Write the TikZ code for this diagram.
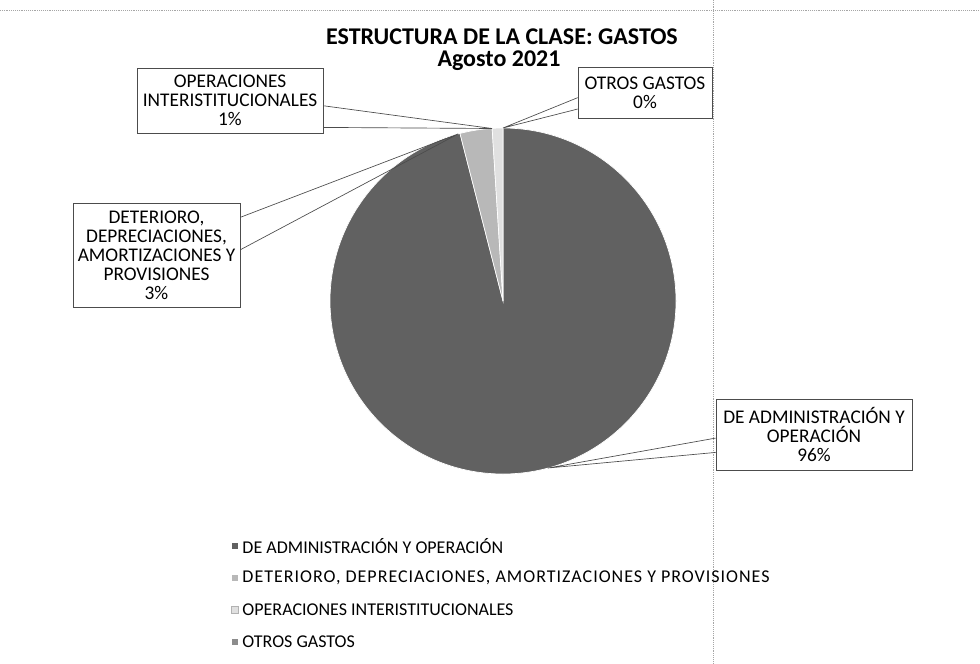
\documentclass[tikz,border=0pt]{standalone}
\usepackage{fontspec}
\setmainfont{Carlito}
\usepackage{tikz}
\usetikzlibrary{calc,positioning}

\tikzset{
    etiqueta/.style={draw=black!70, line width=0.5pt, fill=white, align=center, font=\fontsize{14.5}{14.3}\selectfont, inner sep=0pt},
    guia/.style={draw=black!70, line width=0.5pt},
    rejilla/.style={draw=black!35, line width=0.4pt, densely dotted},
    leyenda/.style={anchor=west, font=\fontsize{13.5}{15}\selectfont, inner sep=0pt},
    marca/.style={minimum size=5.5pt, inner sep=0pt, draw=white, line width=0.3pt}
}
\colorlet{cAdmin}{black!62}
\colorlet{cDeter}{black!28}
\colorlet{cOpint}{black!12}
\colorlet{cOtros}{black!45}

\begin{document}
\begin{tikzpicture}[x=0.75pt,y=0.75pt,yscale=-1,xscale=1]
    \useasboundingbox (0,0) rectangle (980,663);
    \fill[white] (0,0) rectangle (980,663);

    %Straight Lines: sheet grid
    \draw[rejilla] (0,10) -- (980,10);
    \draw[rejilla] (713,0) -- (713,663);

    % Title
    \node (titulo) at (502,37) {\fontsize{18}{20}\selectfont\bfseries ESTRUCTURA DE LA CLASE: GASTOS};
    \node (fecha) at (499,61) {\fontsize{18}{20}\selectfont\bfseries Agosto 2021};

    %Shape: Pie (center 503,301, radius 173)
    \coordinate (centro) at (503,301);
    \fill[cAdmin, draw=white, line width=0.5pt] (centro) -- ++(270:173) arc (270:615.6:173) -- cycle;
    \fill[cDeter, draw=white, line width=0.5pt] (centro) -- ++(615.6:173) arc (615.6:626.4:173) -- cycle;
    \fill[cOpint, draw=white, line width=0.5pt] (centro) -- ++(626.4:173) arc (626.4:630:173) -- cycle;

    % Leader tips on the pie edge
    \coordinate (pAdmin) at (548,468);
    \coordinate (pDeter) at (458,134);
    \coordinate (pOpint) at (492,128.5);
    \coordinate (pOtros) at (503,128);

    % Text Node
    \node[etiqueta, minimum width=139.5pt, minimum height=48.75pt] (opint) at (230,100.5) {OPERACIONES\\INTERISTITUCIONALES\\1\%};
    % Text Node
    \node[etiqueta, minimum width=100.5pt, minimum height=38.25pt] (otros) at (645,92.5) {OTROS GASTOS\\0\%};
    % Text Node
    \node[etiqueta, minimum width=125.25pt, minimum height=78pt] (deter) at (156.5,255) {DETERIORO,\\DEPRECIACIONES,\\AMORTIZACIONES Y\\PROVISIONES\\3\%};
    % Text Node
    \node[etiqueta, minimum width=147pt, minimum height=53.25pt] (admin) at (814,434.5) {DE ADMINISTRACIÓN Y\\OPERACIÓN\\96\%};

    %Straight Lines: callout leaders
    \draw[guia] ($(opint.north east)!0.58!(opint.south east)$) -- (pOpint) -- ($(opint.north east)!0.91!(opint.south east)$);
    \draw[guia] ($(otros.north west)!0.6!(otros.south west)$) -- (pOtros) -- ($(otros.north west)!0.82!(otros.south west)$);
    \draw[guia] ($(deter.north east)!0.14!(deter.south east)$) -- (pDeter) -- ($(deter.north east)!0.45!(deter.south east)$);
    \draw[guia] ($(admin.north west)!0.55!(admin.south west)$) -- (pAdmin) -- ($(admin.north west)!0.75!(admin.south west)$);

    % Legend
    \node[marca, fill=cAdmin] (mAdmin) at (235,546) {};
    \node[leyenda, right=2.5pt of mAdmin] (lAdmin) {DE ADMINISTRACIÓN Y OPERACIÓN};
    \node[marca, fill=cDeter] (mDeter) at (235,578) {};
    \node[leyenda, right=2.5pt of mDeter] (lDeter) {\addfontfeature{LetterSpace=5.5}DETERIORO, DEPRECIACIONES, AMORTIZACIONES Y PROVISIONES};
    \node[marca, fill=cOpint, draw=black!30] (mOpint) at (235,610) {};
    \node[leyenda, right=2.5pt of mOpint] (lOpint) {OPERACIONES INTERISTITUCIONALES};
    \node[marca, fill=cOtros] (mOtros) at (235,642) {};
    \node[leyenda, right=2.5pt of mOtros] (lOtros) {OTROS GASTOS};

\end{tikzpicture}
\end{document}
